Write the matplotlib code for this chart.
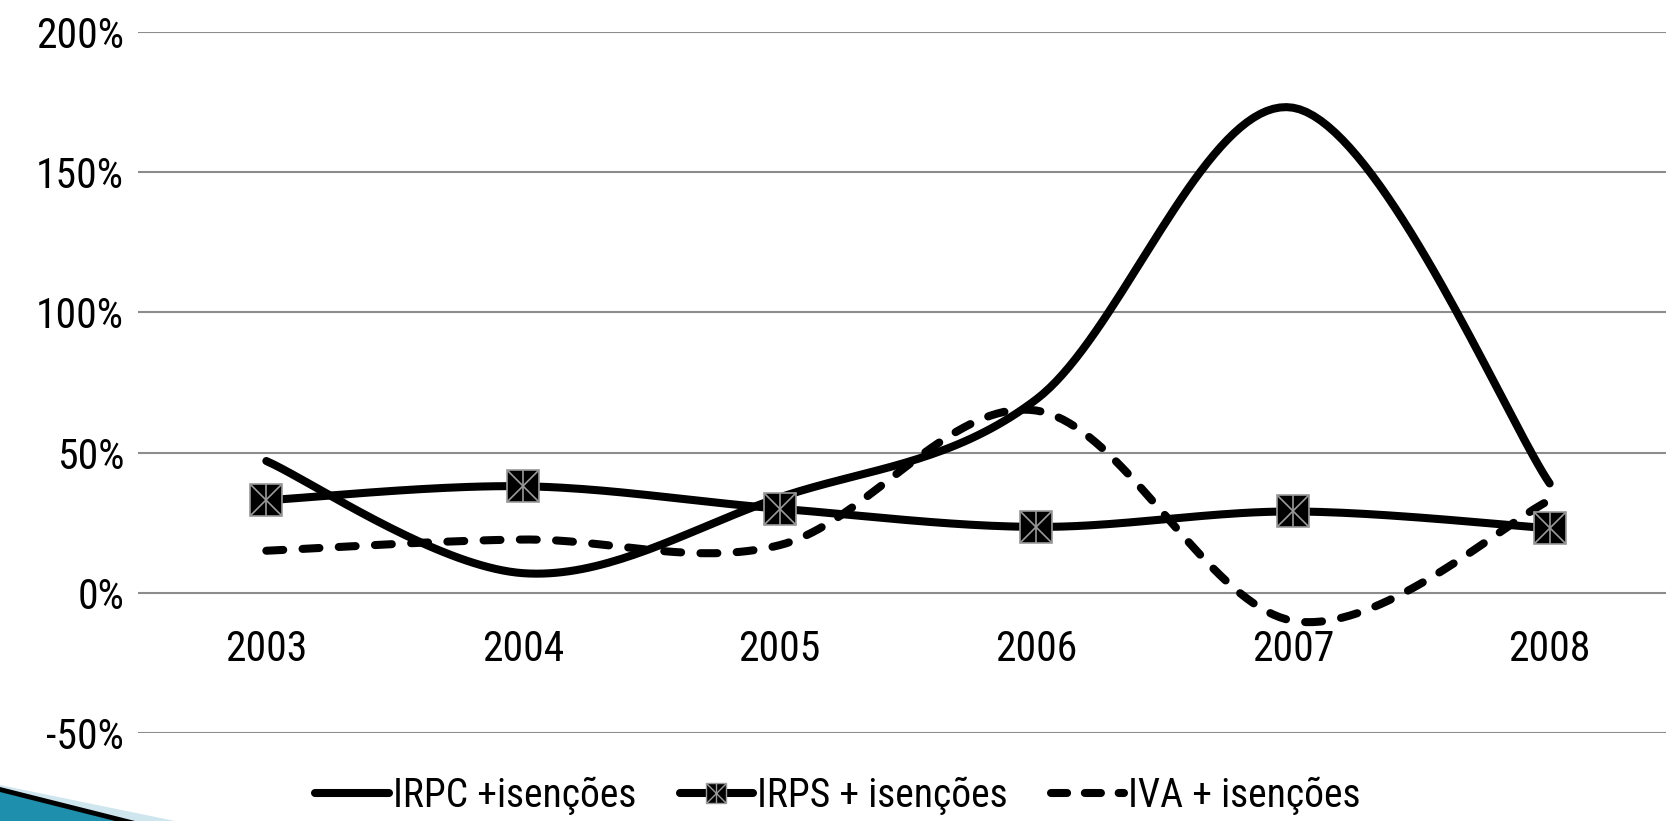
import numpy as np
import matplotlib
matplotlib.use("Agg")
import matplotlib.pyplot as plt
from matplotlib.lines import Line2D
from matplotlib.legend_handler import HandlerTuple
from matplotlib.patches import Polygon

plt.rcParams["font.family"] = ["Roboto Condensed", "Archivo Narrow", "DejaVu Sans"]

years = ["2003", "2004", "2005", "2006", "2007", "2008"]
irpc = [0.47, 0.07, 0.34, 0.69, 1.73, 0.39]
irps = [0.33, 0.38, 0.30, 0.235, 0.29, 0.23]
iva = [0.15, 0.19, 0.17, 0.65, -0.10, 0.33]
y_ticks = [-0.5, 0.0, 0.5, 1.0, 1.5, 2.0]
labels = ["IRPC +isenções", "IRPS + isenções", "IVA + isenções"]


def smooth(xs, ys, n=40):
    # Excel-like smoothed line: cubic Bezier through points, Catmull-Rom controls
    p = np.column_stack([xs, ys]).astype(float)
    out = []
    for i in range(len(p) - 1):
        p0 = p[i - 1] if i > 0 else p[i]
        p1, p2 = p[i], p[i + 1]
        p3 = p[i + 2] if i + 2 < len(p) else p[i + 1]
        c1 = p1 + (p2 - p0) / 6
        c2 = p2 - (p3 - p1) / 6
        t = np.linspace(0, 1, n)[:, None]
        seg = ((1 - t) ** 3) * p1 + 3 * ((1 - t) ** 2) * t * c1 + 3 * (1 - t) * t ** 2 * c2 + t ** 3 * p2
        out.append(seg if i == 0 else seg[1:])
    s = np.vstack(out)
    return s[:, 0], s[:, 1]


fig = plt.figure(figsize=(16.66, 8.21), dpi=100)
ax = fig.add_axes([138 / 1666, 1 - 733 / 821, 1540 / 1666, 701 / 821])

x = np.arange(len(years))
lw = 5.8
dash = (2.1, 2.4)
grey = "#9a9a9a"

sx, sy = smooth(x, irpc)
ax.plot(sx, sy, color="black", lw=lw, solid_capstyle="round", zorder=3)

sx, sy = smooth(x, iva)
ax.plot(sx, sy, color="black", lw=lw, dashes=dash, dash_capstyle="round", zorder=3)

sx, sy = smooth(x, irps)
ax.plot(sx, sy, color="black", lw=lw, zorder=4)
ax.plot(x, irps, ls="none", marker="s", ms=23, mfc="black", mec=grey, mew=1.2, zorder=5)
ax.plot(x, irps, ls="none", marker="x", ms=23, mec=grey, mew=1.2, zorder=6)
ax.plot(x, irps, ls="none", marker="|", ms=23, mec=grey, mew=1.2, zorder=6)

ax.set_xlim(-0.5, len(years) - 0.5)
ax.set_ylim(-0.5, 2.0)
ax.set_yticks(y_ticks)
ax.set_yticklabels([f"{int(round(v * 100))}%" for v in y_ticks])
ax.set_xticks(x)
ax.set_xticklabels(years)
ax.grid(axis="y", color="#8c8c8c", lw=1.5)
ax.set_axisbelow(True)
for s in ax.spines.values():
    s.set_visible(False)
ax.spines["bottom"].set_position(("data", 0))
ax.tick_params(axis="both", length=0, labelsize=30)
ax.tick_params(axis="y", pad=10)
ax.tick_params(axis="x", pad=26)

h1 = Line2D([], [], color="black", lw=lw, solid_capstyle="round")
h2 = (Line2D([], [], color="black", lw=lw, solid_capstyle="round"),
      Line2D([], [], ls="none", marker="s", ms=14, mfc="black", mec=grey, mew=1),
      Line2D([], [], ls="none", marker="x", ms=14, mec=grey, mew=1),
      Line2D([], [], ls="none", marker="|", ms=14, mec=grey, mew=1))
h3 = Line2D([], [], color="black", lw=lw, dashes=(2.0, 2.2), dash_capstyle="round")
fig.legend([h1, h2, h3], labels, loc="lower center", bbox_to_anchor=(0.503, -0.036),
           ncol=3, frameon=False, fontsize=28.5, handlelength=1.85, handletextpad=0.1,
           columnspacing=1.1, numpoints=1,
           handler_map={tuple: HandlerTuple(ndivide=1)})

# decorative swoosh in the bottom-left corner
H = 821
def px(pts):
    return [(a / 1666, 1 - b / H) for a, b in pts]
fig.patches.append(Polygon(px([(0, 785), (175, 821), (0, 821)]), closed=True,
                           transform=fig.transFigure, fc="#cfe6ee", ec="none"))
fig.patches.append(Polygon(px([(0, 787), (135, 821), (0, 821)]), closed=True,
                           transform=fig.transFigure, fc="black", ec="none"))
fig.patches.append(Polygon(px([(0, 792), (115, 821), (0, 821)]), closed=True,
                           transform=fig.transFigure, fc="#1f8fae", ec="none"))

fig.savefig("out.png", dpi=100)
